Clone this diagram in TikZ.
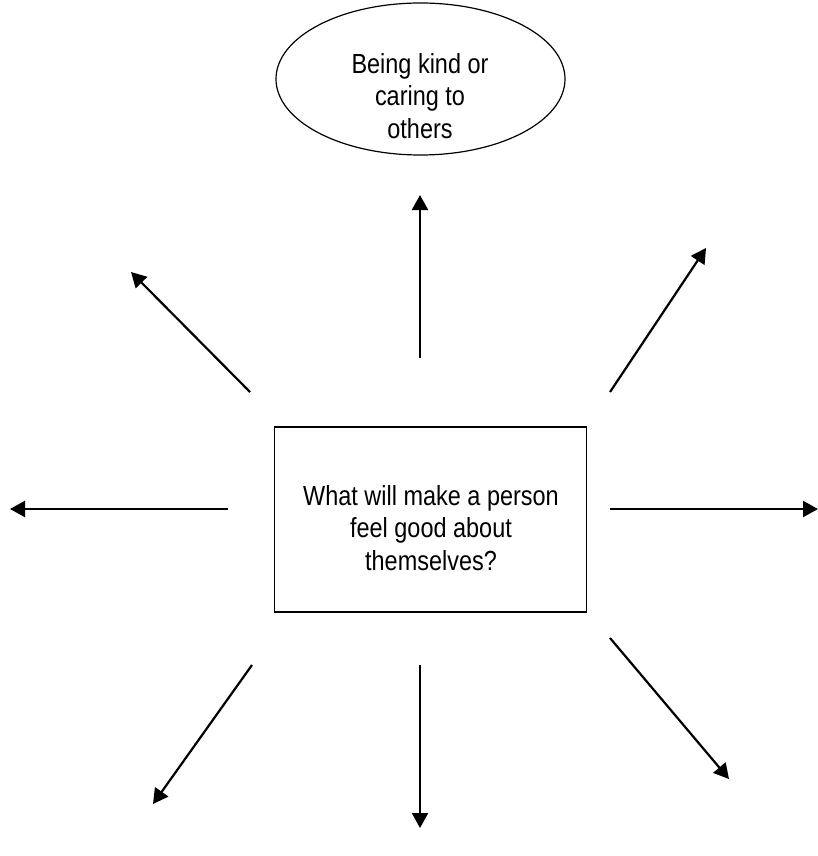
\documentclass[tikz,border=0pt]{standalone}
\usepackage{fontspec}
\setmainfont{Liberation Sans}[FakeStretch=0.85]
\usetikzlibrary{arrows.meta,shapes.geometric}
\begin{document}
\begin{tikzpicture}[x=1pt,y=-1pt,
  txt/.style={align=center,inner sep=0pt,font=\fontsize{27.6}{32.5}\selectfont},
  spoke/.style={line width=2.2pt,-{Triangle[length=15pt,width=16pt]}}]
\useasboundingbox (0,0) rectangle (818,856);
% ellipse
\node[draw,line width=1.2pt,ellipse,minimum width=289pt,minimum height=152pt,inner sep=0pt] (kind) at (420.5,79) {};
\node[txt] (kindtxt) at (420,96) {Being kind or\\caring to\\others};
% central box
\node[draw,line width=1.4pt,rectangle,minimum width=312pt,minimum height=185pt,inner sep=0pt] (box) at (430.5,519.5) {};
\node[txt] (boxtxt) at (431,528) {What will make a person\\feel good about\\themselves?};
% arrow ends
\coordinate (s1) at (420,358); \coordinate (t1) at (420,195);
\coordinate (s2) at (250,392); \coordinate (t2) at (131,272);
\coordinate (s3) at (610,392); \coordinate (t3) at (706,248);
\coordinate (s4) at (228,509); \coordinate (t4) at (10,509);
\coordinate (s5) at (610,509); \coordinate (t5) at (818,509);
\coordinate (s6) at (252,665); \coordinate (t6) at (153,804);
\coordinate (s7) at (420,665); \coordinate (t7) at (420,828);
\coordinate (s8) at (610,638); \coordinate (t8) at (729,779);
\foreach \i in {1,...,8} {\draw[spoke] (s\i) -- (t\i);}
\end{tikzpicture}
\end{document}
